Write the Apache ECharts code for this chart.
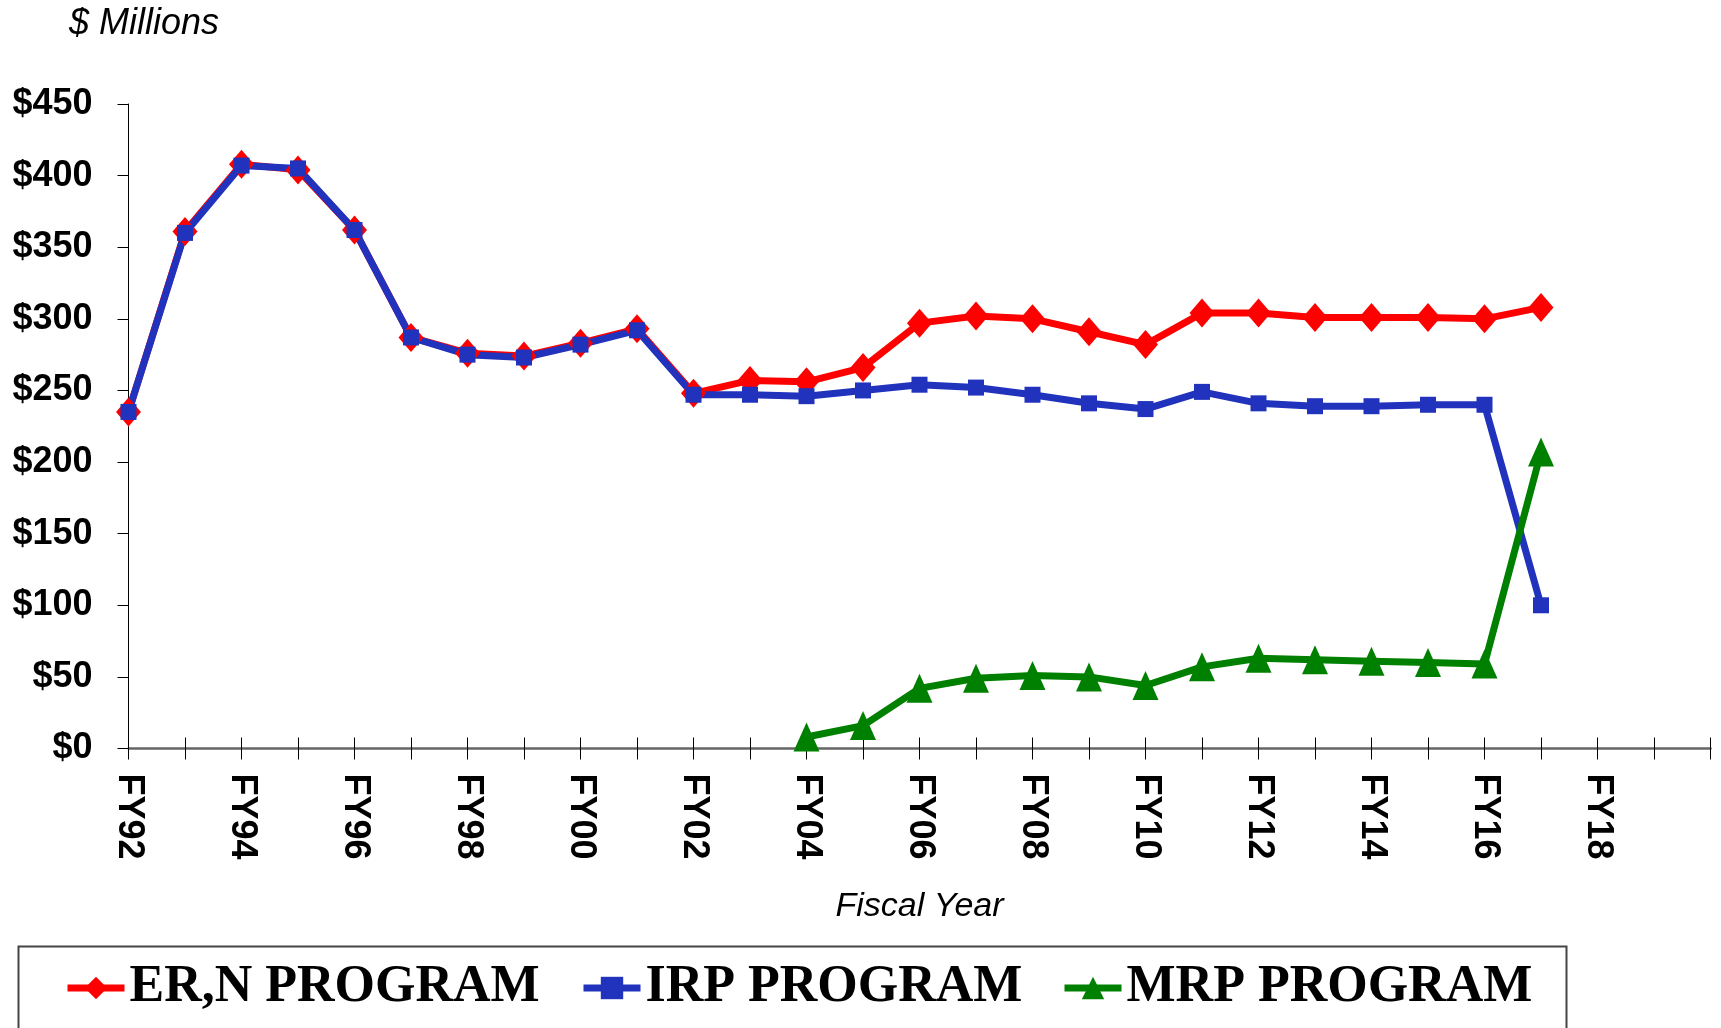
<!DOCTYPE html>
<html>
<head>
<meta charset="utf-8">
<title>Program funding by fiscal year</title>
<script src="https://cdn.jsdelivr.net/npm/echarts@6/dist/echarts.min.js"></script>
<style>
  html, body { margin: 0; padding: 0; background: #fff; }
  #chart { width: 1721px; height: 1028px; }
</style>
</head>
<body>
<div id="chart"></div>
<script>
// fiscal years on the category axis (FY20 only closes the axis, no label)
const years = ['FY92', 'FY93', 'FY94', 'FY95', 'FY96', 'FY97', 'FY98', 'FY99', 'FY00', 'FY01',
  'FY02', 'FY03', 'FY04', 'FY05', 'FY06', 'FY07', 'FY08', 'FY09', 'FY10', 'FY11',
  'FY12', 'FY13', 'FY14', 'FY15', 'FY16', 'FY17', 'FY18', 'FY19', 'FY20']

// $ millions
const ernProgram = [235, 361, 408, 404, 362, 287, 276, 274, 283, 293,
  248, 257, 256, 266, 297, 302, 300, 291, 282, 304,
  304, 301, 301, 301, 300, 308]
const irpProgram = [235, 360, 407, 405, 362, 287, 275, 273, 282, 292,
  247, 247, 246, 250, 254, 252, 247, 241, 237, 249,
  241, 239, 239, 240, 240, 100]
const mrpProgram = [null, null, null, null, null, null, null, null, null, null,
  null, null, 8, 16, 42, 49, 51, 50, 44, 57,
  63, 62, 61, 60, 59, 207]

const seriesNames = ['ER,N PROGRAM', 'IRP PROGRAM', 'MRP PROGRAM']

let chart = echarts.init(document.getElementById('chart'))

const legendText = {
  fontFamily: 'Liberation Serif',
  fontWeight: 'bold',
  fontSize: 52,
  color: '#000'
}

function legendAt(name, left) {
  return {
    data: [name],
    left: left,
    top: 962,
    padding: 0,
    itemWidth: 57,
    itemHeight: 28,
    textStyle: legendText,
    lineStyle: { width: 7 },
    selectedMode: false
  }
}

let option = {
  animation: false,
  backgroundColor: '#fff',
  title: {
    text: '$ Millions',
    left: 64,
    top: 1,
    textStyle: {
      fontFamily: 'Liberation Sans',
      fontStyle: 'italic',
      fontWeight: 'normal',
      fontSize: 36,
      color: '#000'
    }
  },
  legend: [
    legendAt(seriesNames[0], 64),
    legendAt(seriesNames[1], 580),
    legendAt(seriesNames[2], 1061)
  ],
  graphic: [
    {
      type: 'rect',
      left: 16,
      top: 944,
      shape: { width: 1548, height: 110 },
      style: { fill: 'none', stroke: '#444', lineWidth: 2 },
      z: -1
    }
  ],
  grid: {
    left: 128.5,
    right: 10.5,
    top: 104,
    bottom: 279.5
  },
  xAxis: [
    {
      type: 'category',
      data: years,
      boundaryGap: false,
      name: 'Fiscal Year',
      nameLocation: 'middle',
      nameGap: 158,
      nameTextStyle: {
        fontFamily: 'Liberation Sans',
        fontStyle: 'italic',
        fontSize: 34,
        color: '#000',
        verticalAlign: 'middle'
      },
      axisLine: { lineStyle: { color: '#666', width: 2.5 } },
      axisTick: { interval: 0, length: 11, lineStyle: { color: '#000', width: 1 } },
      axisLabel: {
        interval: function (i) { return i % 2 === 0 && i < years.length - 1 },
        rotate: -90,
        margin: 25,
        fontFamily: 'Liberation Sans',
        fontWeight: 'bold',
        fontSize: 36,
        color: '#000'
      },
      splitLine: { show: false }
    },
    {
      // second copy only for the ticks that cross to the inside
      type: 'category',
      data: years,
      boundaryGap: false,
      position: 'bottom',
      axisLine: { show: false },
      axisTick: { interval: 0, inside: true, length: 11, lineStyle: { color: '#000', width: 1 } },
      axisLabel: { show: false },
      splitLine: { show: false }
    }
  ],
  yAxis: {
    type: 'value',
    min: 0,
    max: 450,
    interval: 50,
    axisLine: { show: true, lineStyle: { color: '#000', width: 1 } },
    axisTick: { show: true, length: 11, lineStyle: { color: '#000' } },
    axisLabel: {
      formatter: '${value}',
      margin: 36,
      fontFamily: 'Liberation Sans',
      fontWeight: 'bold',
      fontSize: 36,
      color: '#000'
    },
    splitLine: { show: false }
  },
  series: [
    {
      name: seriesNames[0],
      type: 'line',
      data: ernProgram,
      color: '#ff0000',
      symbol: 'diamond',
      symbolSize: [25, 29],
      lineStyle: { width: 7 }
    },
    {
      name: seriesNames[1],
      type: 'line',
      data: irpProgram,
      color: '#2132bd',
      symbol: 'rect',
      symbolSize: 16,
      lineStyle: { width: 7 }
    },
    {
      name: seriesNames[2],
      type: 'line',
      data: mrpProgram,
      color: '#008000',
      symbol: 'triangle',
      symbolSize: [26, 29],
      lineStyle: { width: 7 }
    }
  ]
}

chart.setOption(option)
</script>
</body>
</html>
